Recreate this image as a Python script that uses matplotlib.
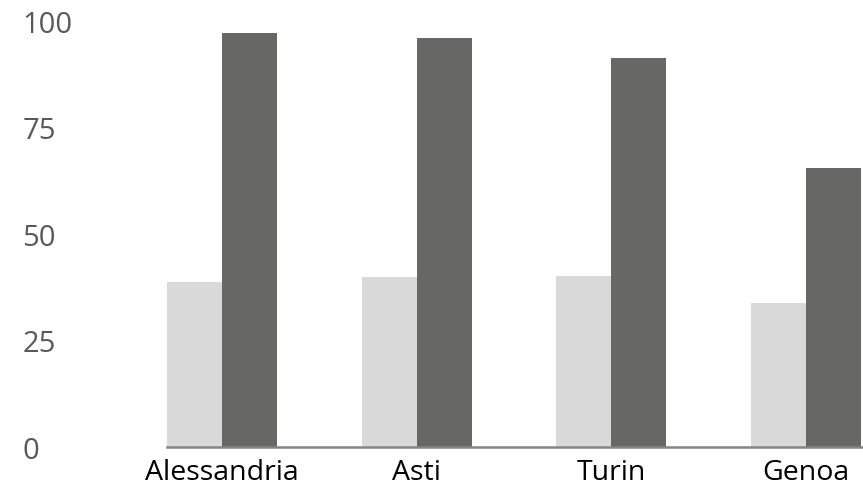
import numpy as np
import matplotlib.pyplot as plt

# data
cities = ['Alessandria', 'Asti', 'Turin', 'Genoa']
light_vals = [38.8, 40.0, 40.2, 33.9]
dark_vals = [97.3, 96.0, 91.2, 65.6]
y_ticks = [0, 25, 50, 75, 100]

plt.rcParams['font.family'] = ['Open Sans', 'DejaVu Sans']

fig = plt.figure(figsize=(8.63, 4.89), dpi=100)
ax = fig.add_axes([167 / 863, 1 - 448 / 489, 1 - 167 / 863, (448 - 22) / 489])

x = np.arange(len(cities))
width = 0.282
ax.bar(x - width / 2, light_vals, width, color='#d9d9d9')
ax.bar(x + width / 2, dark_vals, width, color='#676765')

ax.set_xlim(-width, 3.292)
ax.set_ylim(0, 100)

for side in ['top', 'right', 'left']:
    ax.spines[side].set_visible(False)
ax.spines['bottom'].set_color('#858585')
ax.spines['bottom'].set_linewidth(1.8)

ax.set_xticks(x)
ax.set_xticklabels(cities, fontsize=20.5, color='black')
ax.set_yticks(y_ticks)
ax.set_yticklabels([str(t) for t in y_ticks], fontsize=21, color='#595959')
ax.tick_params(axis='x', length=0, pad=8)
ax.tick_params(axis='y', length=0, pad=104)
for lab in ax.get_yticklabels():
    lab.set_horizontalalignment('left')

fig.savefig('out.png', dpi=100)
